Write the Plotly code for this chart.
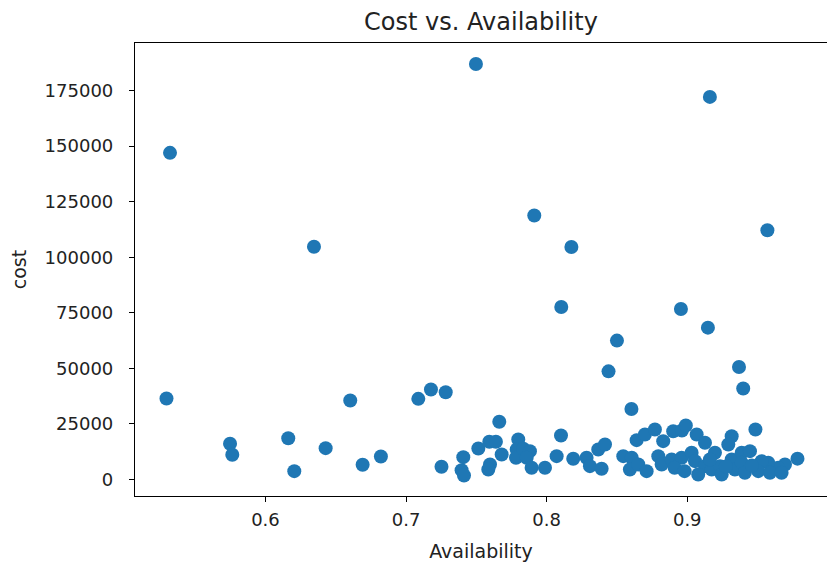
import plotly.graph_objects as go

availability = [
    0.5296, 0.5321, 0.5748, 0.5764, 0.6162, 0.6205, 0.6345, 0.6428, 0.6603, 0.6691,
    0.6821, 0.7087, 0.7177, 0.7282, 0.7252, 0.7497, 0.7912, 0.8176, 0.8104, 0.8500,
    0.8440, 0.8603, 0.9161, 0.8955, 0.9147, 0.9368, 0.9398, 0.9570, 0.9485, 0.9784,
    0.7407, 0.7395, 0.7412, 0.7514, 0.7663, 0.7592, 0.7639, 0.7597, 0.7585, 0.7680,
    0.7798, 0.7787, 0.7782, 0.7834, 0.7881, 0.7858, 0.7893, 0.7988, 0.8071, 0.8102,
    0.8189, 0.8284, 0.8308, 0.8391, 0.8367, 0.8415, 0.8545, 0.8605, 0.8592, 0.8640,
    0.8699, 0.8770, 0.8829, 0.8652, 0.8711, 0.8794, 0.8818, 0.8900, 0.8962, 0.8990,
    0.9067, 0.9126, 0.9316, 0.9292, 0.8889, 0.8960, 0.9031, 0.9055, 0.9126, 0.9197,
    0.9174, 0.9233, 0.9316, 0.9339, 0.8910, 0.8981, 0.9078, 0.9245, 0.9387, 0.9446,
    0.9695, 0.9647, 0.9576, 0.9529, 0.9387, 0.9410, 0.9505, 0.9588, 0.9671, 0.9161,
    0.9460, 0.9275,
]
cost = [
    36410, 146990, 16050, 11100, 18560, 3730, 104730, 14070, 35510, 6610,
    10340, 36270, 40460, 39240, 5710, 186990, 118800, 104600, 77630, 62480,
    48640, 31690, 172160, 76730, 68320, 50570, 40900, 112150, 22480, 9350,
    10020, 4180, 1800, 13930, 25940, 16950, 16950, 6740, 4500, 11240,
    17980, 13490, 9750, 13800, 12720, 9750, 5260, 5260, 10470, 19780,
    9300, 9750, 5980, 4810, 13490, 15730, 10470, 9750, 4500, 17670,
    20230, 22480, 17220, 6740, 3730, 10470, 6740, 21710, 22030, 24270,
    20230, 16500, 19460, 15730, 8990, 9750, 12000, 8230, 5980, 12000,
    4500, 5980, 8990, 4500, 5260, 3730, 2250, 2250, 12000, 12720,
    6740, 5260, 7510, 8230, 7510, 3010, 3730, 3010, 3010, 8990,
    6290, 5840,
]

x_ticks = [0.6, 0.7, 0.8, 0.9]
y_ticks = [0, 25000, 50000, 75000, 100000, 125000, 150000, 175000]

font = "DejaVu Sans"

# the page body has an 8px margin, so the figure is drawn 8px smaller/offset
W, H = 827, 559
L, T, R, B = 127, 35, 8, 71

fig = go.Figure(
    go.Scatter(
        x=availability,
        y=cost,
        mode="markers",
        marker=dict(color="#1f77b4", size=14, line=dict(width=0)),
        showlegend=False,
        hoverinfo="x+y",
    )
)

fig.update_layout(
    width=W,
    height=H,
    margin=dict(l=L, r=R, t=T, b=B, autoexpand=False),
    paper_bgcolor="white",
    plot_bgcolor="white",
    font=dict(family=font, size=18, color="black"),
    title=dict(
        text="Cost vs. Availability",
        x=(L + (W - R)) / 2 / W,
        xanchor="center",
        xref="container",
        y=1 - 14 / H,
        yanchor="middle",
        yref="container",
        font=dict(family=font, size=24, color="#222222"),
    ),
)

axis_common = dict(
    showgrid=False,
    zeroline=False,
    showline=True,
    linecolor="black",
    linewidth=1.2,
    mirror=True,
    ticks="outside",
    ticklen=5,
    tickwidth=1.2,
    tickcolor="black",
    automargin=False,
    tickfont=dict(family=font, size=18, color="#222222"),
)

fig.update_xaxes(
    range=[0.5072, 0.9994],
    tickvals=x_ticks,
    ticktext=[f"{v:.1f}" for v in x_ticks],
    ticklabelstandoff=2,
    title=dict(text="Availability", font=dict(family=font, size=19, color="#222222"), standoff=15),
    **axis_common,
)
fig.update_yaxes(
    range=[-7460, 196430],
    tickvals=y_ticks,
    ticktext=[str(v) for v in y_ticks],
    ticklabelstandoff=12,
    title=dict(text="cost", font=dict(family=font, size=19, color="#222222"), standoff=12),
    **axis_common,
)

fig.write_html("out.html")
